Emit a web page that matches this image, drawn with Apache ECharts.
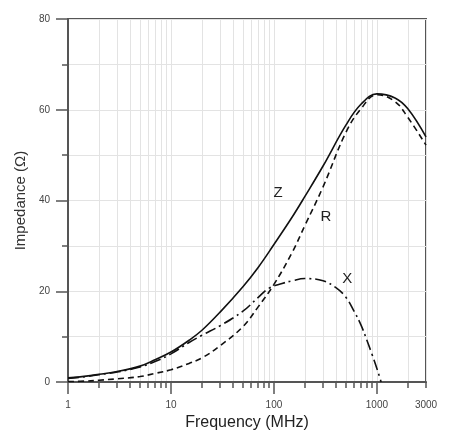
<!DOCTYPE html>
<html>
<head>
<meta charset="utf-8">
<script src="https://cdn.jsdelivr.net/npm/echarts@6/dist/echarts.min.js"></script>
<style>html,body{margin:0;padding:0;background:#fff;}#c{width:452px;height:436px;}</style>
</head>
<body>
<div id="c"></div>
<script>
// Frequencies (MHz) for Z and R
var freq = [1, 1.5, 2, 3, 5, 7, 10, 15, 20, 30, 50, 70, 100, 150, 200, 300, 500, 700, 1000, 1500, 2000, 3000];
var zVals = [0.9, 1.3, 1.7, 2.3, 3.5, 4.9, 6.6, 9.2, 11.4, 15.4, 21.0, 25.2, 30.3, 36.3, 40.9, 47.6, 56.6, 61.2, 63.5, 62.6, 60.2, 54.0];
var rVals = [0.1, 0.2, 0.4, 0.7, 1.2, 1.9, 2.7, 4.1, 5.3, 8.0, 12.2, 16.5, 21.5, 28.5, 34.5, 43.0, 55.0, 60.2, 63.3, 61.8, 58.3, 52.2];
// Frequencies (MHz) for X
var freqX = [1, 1.5, 2, 3, 5, 7, 10, 15, 20, 30, 50, 70, 90, 120, 150, 200, 300, 400, 500, 600, 700, 800, 900, 1000, 1100];
var xVals = [0.8, 1.2, 1.6, 2.2, 3.3, 4.5, 6.2, 8.7, 10.3, 12.4, 15.6, 18.6, 20.7, 21.7, 22.3, 22.8, 22.3, 20.8, 18.7, 15.6, 12.6, 9.2, 6.0, 3.0, 0.0];
// Tick values
var xMajorTicks = [1, 10, 100, 1000];
var xLabelTicks = [1, 10, 100, 1000, 3000];
var xAllTicks = [1,2,3,4,5,6,7,8,9,10,20,30,40,50,60,70,80,90,100,200,300,400,500,600,700,800,900,1000,2000,3000];
// Curve labels: [name, freq, value]
var curveLabels = [['Z', 110, 41.6], ['R', 320, 36.4], ['X', 515, 22.8]];

function pairs(xs, ys) { return ys.map(function (v, i) { return [xs[i], v]; }); }

var chart = echarts.init(document.getElementById('c'), null, {renderer: 'canvas'});
var axisGray = '#555';
var lineColor = '#111';
var font = 'Liberation Sans, Arial, sans-serif';
var option = {
  animation: false,
  backgroundColor: '#fff',
  grid: {left: 68, right: 26, top: 19, bottom: 54, show: true, borderColor: axisGray, borderWidth: 2, containLabel: false},
  xAxis: [{
    type: 'log', logBase: 10, min: 1, max: 3000,
    name: 'Frequency (MHz)', nameLocation: 'middle', nameGap: 30,
    nameTextStyle: {fontFamily: font, fontSize: 16, color: '#222'},
    axisLine: {show: true, lineStyle: {color: axisGray, width: 2}},
    axisTick: {show: true, customValues: xAllTicks, length: 6, lineStyle: {color: axisGray, width: 1.5}},
    axisLabel: {show: true, customValues: xLabelTicks, margin: 18, fontFamily: font, fontSize: 10, color: '#444',
      formatter: function (v) { return String(Math.round(v)); }},
    splitLine: {show: true, lineStyle: {color: '#e3e3e3', width: 1}},
    minorTick: {show: false}
  }, {
    type: 'log', logBase: 10, min: 1, max: 3000, position: 'bottom', offset: 0,
    axisLine: {show: false},
    axisTick: {show: true, customValues: xMajorTicks, length: 12, lineStyle: {color: axisGray, width: 1.5}},
    axisLabel: {show: false},
    splitLine: {show: false}
  }],
  yAxis: {
    type: 'value', min: 0, max: 80, interval: 20,
    name: 'Impedance (\u03A9)', nameLocation: 'middle', nameGap: 31,
    nameTextStyle: {fontFamily: font, fontSize: 15, color: '#333'},
    axisLine: {show: true, lineStyle: {color: axisGray, width: 2}},
    axisTick: {show: true, length: 12, lineStyle: {color: axisGray, width: 1.5}},
    minorTick: {show: true, splitNumber: 2, length: 6, lineStyle: {color: axisGray, width: 1.5}},
    axisLabel: {margin: 18, fontFamily: font, fontSize: 10, color: '#444'},
    splitLine: {show: true, lineStyle: {color: '#e3e3e3', width: 1}},
    minorSplitLine: {show: true, lineStyle: {color: '#e3e3e3', width: 1}}
  },
  series: [{
    name: 'Z', type: 'line', data: pairs(freq, zVals), smooth: 0.4, showSymbol: false, symbol: 'none',
    lineStyle: {color: lineColor, width: 1.6, type: 'solid'},
    markPoint: {
      symbol: 'circle', symbolSize: 1, itemStyle: {color: 'rgba(0,0,0,0)'},
      label: {show: true, position: 'inside', fontFamily: font, fontSize: 15, color: '#222', formatter: function (p) { return p.name; }},
      data: curveLabels.map(function (c) { return {name: c[0], coord: [c[1], c[2]]}; })
    }
  }, {
    name: 'R', type: 'line', data: pairs(freq, rVals), smooth: 0.4, showSymbol: false, symbol: 'none',
    lineStyle: {color: lineColor, width: 1.6, type: [6, 4]}
  }, {
    name: 'X', type: 'line', data: pairs(freqX, xVals), smooth: 0.4, showSymbol: false, symbol: 'none',
    lineStyle: {color: lineColor, width: 1.6, type: [11, 4, 2, 4]}
  }]
};
chart.setOption(option);
</script>
</body>
</html>
